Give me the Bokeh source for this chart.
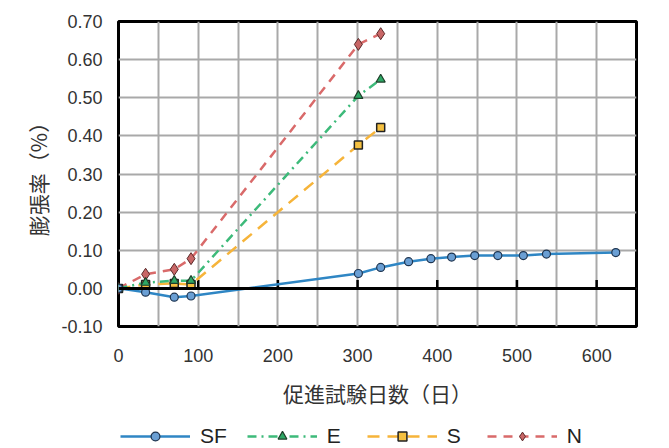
from bokeh.plotting import figure
from bokeh.models import (Span, FixedTicker, NumeralTickFormatter, Legend, LegendItem,
                          Range1d)
from bokeh.layouts import column
from bokeh.embed import file_html
from bokeh.resources import INLINE

# ---- data ----
sf_days = [0, 34, 70, 91, 301, 329, 364, 392, 418, 447, 476, 508, 537, 624]
sf_vals = [0.000, -0.010, -0.023, -0.020, 0.039, 0.055, 0.070, 0.078, 0.082, 0.086, 0.086, 0.086, 0.090, 0.094]

ens_days = [0, 34, 70, 91, 301, 329]
e_vals = [0.000, 0.015, 0.020, 0.020, 0.505, 0.548]
s_vals = [0.000, 0.010, 0.013, 0.010, 0.376, 0.422]
n_vals = [0.000, 0.037, 0.050, 0.078, 0.640, 0.668]

x_ticks = [0, 100, 200, 300, 400, 500, 600]
x_grid = [0, 50, 100, 150, 200, 250, 300, 350, 400, 450, 500, 550, 600, 650]
y_ticks = [-0.10, 0.00, 0.10, 0.20, 0.30, 0.40, 0.50, 0.60, 0.70]

series_names = ["SF", "E", "S", "N"]
x_label = "促進試験日数（日）"
y_label = "膨張率（%）"

FONT = "Liberation Sans"
CJK = "Noto Sans CJK JP"

STYLE = {
    "SF": dict(line=dict(line_color="#2f86c4", line_width=2.5),
               mark=dict(marker="circle", size=8, fill_color="#6a9fd4",
                         line_color="#1f3550", line_width=1.2)),
    "E": dict(line=dict(line_color="#3dba7a", line_width=2.5, line_dash="9 5 2 5"),
              mark=dict(marker="triangle", size=9, fill_color="#2ea865",
                        line_color="#1e3f2a", line_width=1.2)),
    "S": dict(line=dict(line_color="#f6b43a", line_width=2.5, line_dash="12 8"),
              mark=dict(marker="square", size=8, fill_color="#f5c040",
                        line_color="#222222", line_width=1.5)),
    "N": dict(line=dict(line_color="#d96a6a", line_width=2.5, line_dash="9 7"),
              mark=dict(marker="diamond", size=12, fill_color="#c86666",
                        line_color="#5a2a2a", line_width=1)),
}
DATA = {"SF": (sf_days, sf_vals), "E": (ens_days, e_vals),
        "S": (ens_days, s_vals), "N": (ens_days, n_vals)}

p = figure(width=669, height=410, output_backend="svg", toolbar_location=None,
           x_range=Range1d(0, 650), y_range=Range1d(-0.10, 0.70),
           min_border_left=118, min_border_right=33, min_border_top=21,
           min_border_bottom=84)
p.background_fill_color = "white"
p.border_fill_color = "white"
p.outline_line_color = "black"
p.outline_line_width = 3

# grid
p.xgrid.ticker = FixedTicker(ticks=x_grid)
p.ygrid.ticker = FixedTicker(ticks=y_ticks)
for g in (p.xgrid, p.ygrid):
    g.grid_line_color = "#a9a9a9"
    g.grid_line_width = 2

# axes
p.xaxis.ticker = FixedTicker(ticks=x_ticks)
p.yaxis.ticker = FixedTicker(ticks=y_ticks)
p.yaxis.formatter = NumeralTickFormatter(format="0.00")
for ax in (p.xaxis, p.yaxis):
    ax.axis_line_color = None
    ax.major_tick_line_color = None
    ax.minor_tick_line_color = None
    ax.major_tick_out = 0
    ax.major_tick_in = 0
    ax.minor_tick_out = 0
    ax.major_label_text_font = FONT
    ax.major_label_text_font_size = "18px"
    ax.major_label_text_color = "#333333"
    ax.axis_label_text_font = CJK
    ax.axis_label_text_font_size = "21px"
    ax.axis_label_text_font_style = "normal"
    ax.axis_label_text_color = "#333333"
p.xaxis.major_label_standoff = 22
p.yaxis.major_label_standoff = 16
p.xaxis.axis_label = x_label
p.yaxis.axis_label = y_label
p.xaxis.axis_label_standoff = 13
p.yaxis.axis_label_standoff = 5

# zero line with ticks pointing up
p.add_layout(Span(location=0, dimension="width", line_color="black", line_width=3))
p.segment(x0=x_ticks[1:], x1=x_ticks[1:], y0=[0] * 6, y1=[0.022] * 6,
          line_color="black", line_width=2.5)

# series (draw order: N, S, E, SF lines, then markers)
for name in ["N", "S", "E", "SF"]:
    xs, ys = DATA[name]
    p.line(xs, ys, **STYLE[name]["line"])
for name in ["N", "S", "E", "SF"]:
    xs, ys = DATA[name]
    p.scatter(xs, ys, **STYLE[name]["mark"])

# legend strip: a second figure whose view lies away from the data,
# so only the legend shows
lg = figure(width=669, height=38, output_backend="svg", toolbar_location=None,
            x_range=Range1d(10000, 10001), y_range=Range1d(10, 11),
            x_axis_type=None, y_axis_type=None,
            min_border_left=0, min_border_right=0, min_border_top=0, min_border_bottom=0)
lg.outline_line_color = None
lg.xgrid.visible = False
lg.ygrid.visible = False
items = []
for name in series_names:
    xs, ys = DATA[name]
    r1 = lg.line(xs, ys, **STYLE[name]["line"])
    r2 = lg.scatter(xs, ys, **STYLE[name]["mark"])
    items.append(LegendItem(label=name, renderers=[r1, r2]))

legend = Legend(items=items, orientation="horizontal", location=(2, 0),
                glyph_width=70, glyph_height=22, label_height=22,
                label_standoff=10, spacing=20, padding=0, margin=0,
                label_text_font=FONT, label_text_font_size="21px",
                label_text_color="#222222",
                border_line_color=None, background_fill_alpha=0)
lg.add_layout(legend, "center")

layout = column(p, lg, spacing=0)
open("out.html", "w").write(file_html(layout, INLINE))
